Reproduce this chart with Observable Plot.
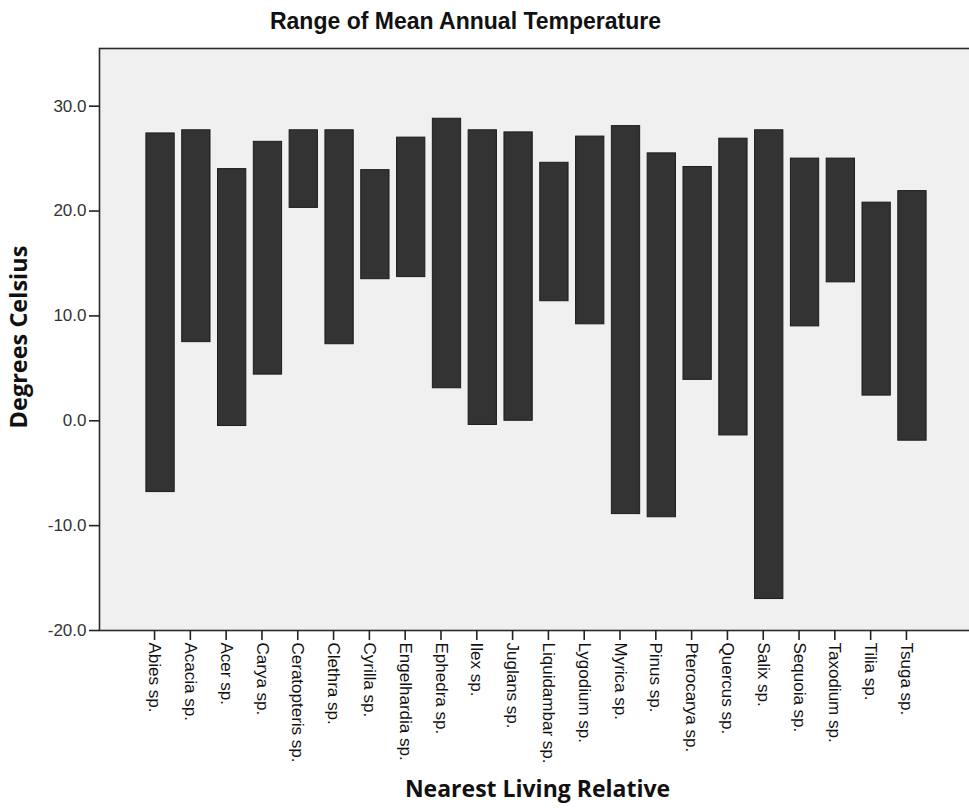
<!DOCTYPE html>
<html>
<head>
<meta charset="utf-8">
<script src="https://cdn.jsdelivr.net/npm/d3@7"></script>
<script src="https://cdn.jsdelivr.net/npm/@observablehq/plot@0.6"></script>
<style>
  html, body { margin: 0; padding: 0; background: #fff; }
  svg { display: block; }
</style>
</head>
<body>
<div id="chart"></div>
<script>
const categories = ["Abies sp.", "Acacia sp.", "Acer sp.", "Carya sp.", "Ceratopteris sp.", "Clethra sp.",
  "Cyrilla sp.", "Engelhardia sp.", "Ephedra sp.", "Ilex sp.", "Juglans sp.", "Liquidambar sp.",
  "Lygodium sp.", "Myrica sp.", "Pinus sp.", "Pterocarya sp.", "Quercus sp.", "Salix sp.",
  "Sequoia sp.", "Taxodium sp.", "Tilia sp.", "Tsuga sp."];
const upperTemp = [27.4, 27.7, 24.0, 26.6, 27.7, 27.7, 23.9, 27.0, 28.8, 27.7, 27.5, 24.6,
  27.1, 28.1, 25.5, 24.2, 26.9, 27.7, 25.0, 25.0, 20.8, 21.9];
const lowerTemp = [-6.8, 7.5, -0.5, 4.4, 20.3, 7.3, 13.5, 13.7, 3.1, -0.4, 0.0, 11.4,
  9.2, -8.9, -9.2, 3.9, -1.4, -17.0, 9.0, 13.2, 2.4, -1.9];
const yTicks = [-20, -10, 0, 10, 20, 30];
const chartTitle = "Range of Mean Annual Temperature";
const xTitle = "Nearest Living Relative";
const yTitle = "Degrees Celsius";

const data = categories.map((name, i) => ({name, lo: lowerTemp[i], hi: upperTemp[i]}));

const W = 969, H = 808;
const chart = Plot.plot({
  width: W,
  height: H,
  marginTop: 48,
  marginBottom: 178,
  marginLeft: 99,
  marginRight: 0,
  style: {background: "#fff", color: "#222", fontFamily: "'Liberation Sans', Arial, sans-serif", fontSize: "17px"},
  x: {domain: categories, range: [99, 973], paddingInner: 0.21, paddingOuter: 1.31, round: false, label: null},
  y: {domain: [-20, 35.5], label: null},
  marks: [
    Plot.frame({fill: "#f0f0f0", stroke: null, insetRight: -10}),
    Plot.barY(data, {x: "name", y1: "lo", y2: "hi", fill: "#333333", stroke: "#1c1c1c", strokeWidth: 1}),
    Plot.frame({stroke: "#2a2a2a", strokeWidth: 1.6, fill: "none", insetRight: -10}),
    Plot.axisY({ticks: yTicks, tickFormat: d => d.toFixed(1), tickSize: 10, tickPadding: 3, fontSize: 17, label: null, fill: "#333", strokeWidth: 1.6}),
    Plot.axisX({tickRotate: 90, tickSize: 10, tickPadding: 2, fontSize: 17, label: null, fill: "#111", dx: -6, strokeWidth: 1.6}),
    Plot.text([chartTitle], {frameAnchor: "top", dx: -69, dy: -27, lineAnchor: "middle", fontSize: 23, fontWeight: "bold", fill: "#111", fontFamily: "'Liberation Sans', Arial, sans-serif"}),
    Plot.text([xTitle], {frameAnchor: "bottom", dx: 3, dy: 159, lineAnchor: "middle", fontSize: 23, fontWeight: "bold", fill: "#111", fontFamily: "'Open Sans', sans-serif"}),
    Plot.text([yTitle], {frameAnchor: "left", dx: -80, dy: -2.5, rotate: -90, textAnchor: "middle", lineAnchor: "middle", fontSize: 23.5, fontWeight: "bold", fill: "#111", fontFamily: "'Open Sans', sans-serif"})
  ]
});
document.getElementById("chart").appendChild(chart);
</script>
</body>
</html>
